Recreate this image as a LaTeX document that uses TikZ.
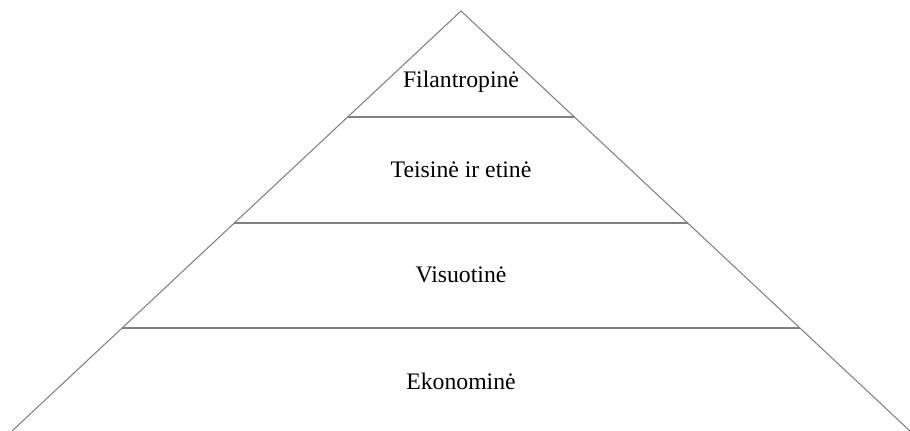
\documentclass[tikz,border=0pt]{standalone}
\usepackage{fontspec}
\setmainfont{Liberation Serif}
\usepackage{tikz}

\tikzset{
    level/.style={gray, line width=0.6pt},
    label/.style={font=\fontsize{13.5}{16}\selectfont, text=black, inner sep=0pt}
}

\begin{document}
\begin{tikzpicture}[x=0.02cm, y=-0.02cm]
        \useasboundingbox (0,0) rectangle (910,431);
        % --- Draw pyramid outline ---
        \coordinate (top) at (461,11);
        \coordinate (baseL) at (12,431);
        \coordinate (baseR) at (910,431);
        \draw[level] (baseL) -- (top) -- (baseR);
        % ---

        % --- Draw level separators ---
        \draw[level] (347.7,117) -- (574.3,117);
        \draw[level] (234.4,223) -- (687.6,223);
        \draw[level] (122.1,328) -- (799.9,328);
        % ---

        % --- Draw level labels ---
        \node[label] (filantropine) at (461,82) {Filantropinė};
        \node[label] (teisine) at (461,170) {Teisinė ir etinė};
        \node[label] (visuotine) at (461,275) {Visuotinė};
        \node[label] (ekonomine) at (461,381) {Ekonominė};
        % ---
\end{tikzpicture}
\end{document}
